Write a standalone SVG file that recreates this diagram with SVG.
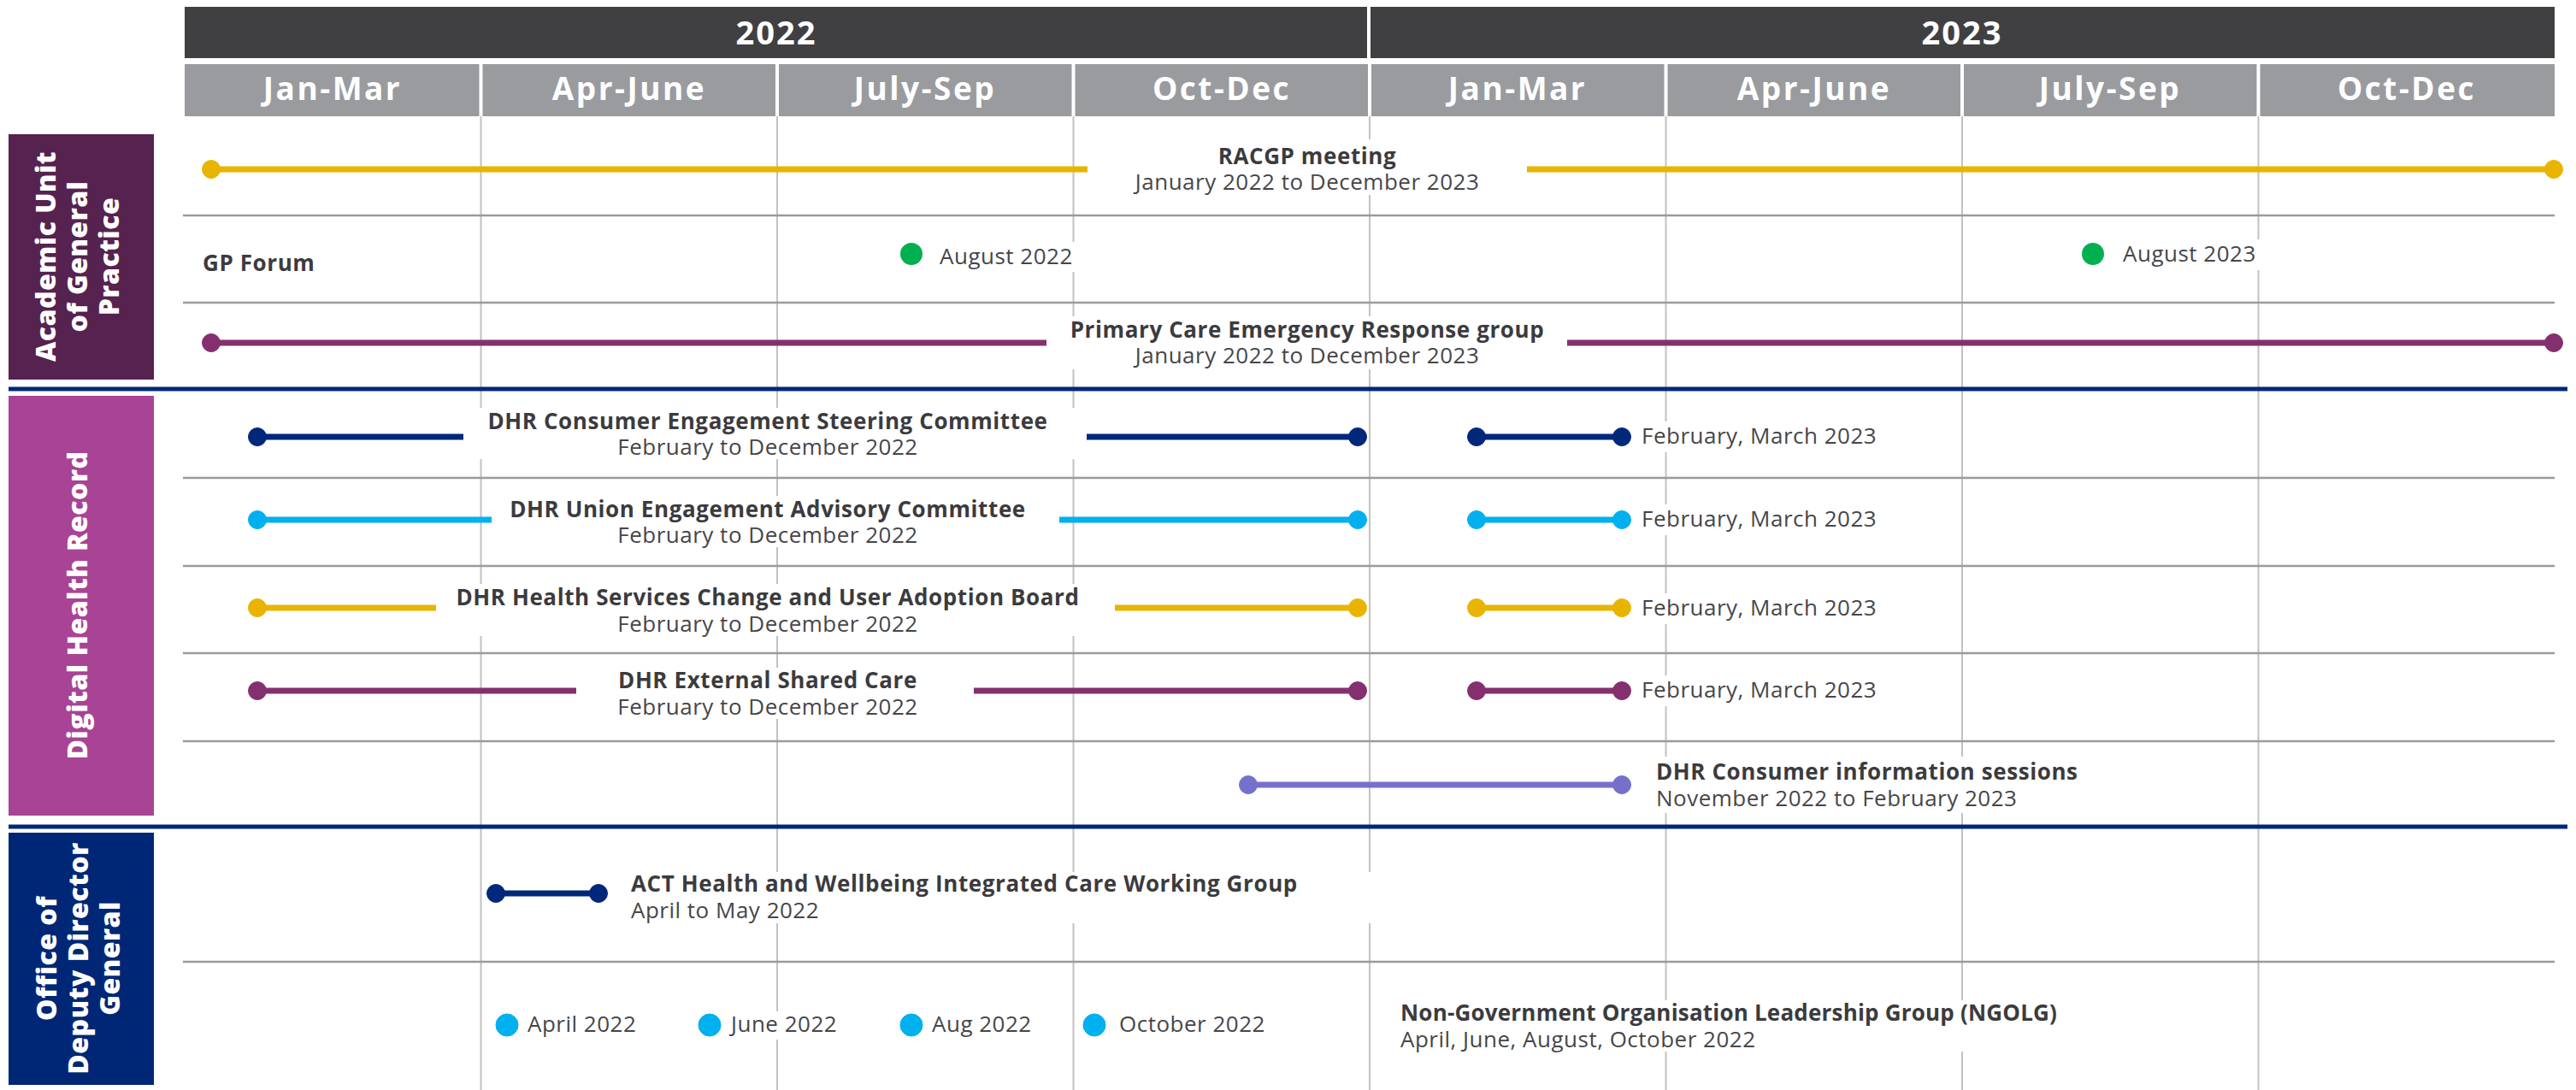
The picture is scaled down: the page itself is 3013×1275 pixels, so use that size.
<svg xmlns="http://www.w3.org/2000/svg" width="3013" height="1275" viewBox="0 0 3013 1275">
<style>
text{font-family:"Open Sans","Liberation Sans",sans-serif}
.hy{fill:#fff;font-weight:700;font-size:38px;letter-spacing:2px;text-anchor:middle}
.hm{fill:#fff;font-weight:700;font-size:37px;letter-spacing:2.5px;text-anchor:middle}
.sec{fill:#fff;font-weight:800;font-size:32px;letter-spacing:0.5px;text-anchor:middle}
.t{fill:#3b3b3e;font-weight:700;font-size:26px;letter-spacing:0.6px}
.s{fill:#46464a;font-weight:400;font-size:26px;letter-spacing:0.5px}
.c{text-anchor:middle}
.grid{stroke:#c2c2c2;stroke-width:2}
.row{stroke:#9b9b9b;stroke-width:2.5}
.sep{stroke:#00287a;stroke-width:5}
.bar{stroke-width:7;fill:none}
.bg{fill:#fff}
.yel{stroke:#e9b400;fill:#e9b400}
.pur{stroke:#84306f;fill:#84306f}
.nav{stroke:#00287a;fill:#00287a}
.lbl{stroke:#00b0ef;fill:#00b0ef}
.lav{stroke:#7670cd;fill:#7670cd}
.grn{fill:#00b050}
</style>
<rect width="3013" height="1275" fill="#fff"/>
<g id="header">
<rect x="216" y="8" width="1383" height="60" fill="#404043"/>
<rect x="1603" y="8" width="1385" height="60" fill="#404043"/>
<text class="hy" x="908" y="52">2022</text>
<text class="hy" x="2295" y="52">2023</text>
<rect x="216" y="75" width="2772" height="61" fill="#999b9f"/>
<g stroke="#fff" stroke-width="4">
<line x1="562.5" y1="75" x2="562.5" y2="136"/><line x1="909" y1="75" x2="909" y2="136"/><line x1="1255.5" y1="75" x2="1255.5" y2="136"/><line x1="1602" y1="75" x2="1602" y2="136"/><line x1="1948.5" y1="75" x2="1948.5" y2="136"/><line x1="2295" y1="75" x2="2295" y2="136"/><line x1="2641.5" y1="75" x2="2641.5" y2="136"/>
</g>
<text class="hm" x="389" y="117">Jan-Mar</text>
<text class="hm" x="736" y="117">Apr-June</text>
<text class="hm" x="1082" y="117">July-Sep</text>
<text class="hm" x="1429" y="117">Oct-Dec</text>
<text class="hm" x="1775" y="117">Jan-Mar</text>
<text class="hm" x="2122" y="117">Apr-June</text>
<text class="hm" x="2468" y="117">July-Sep</text>
<text class="hm" x="2815" y="117">Oct-Dec</text>
</g>
<g id="grid">
<line class="grid" x1="562.5" y1="136" x2="562.5" y2="1275"/><line class="grid" x1="909" y1="136" x2="909" y2="1275"/><line class="grid" x1="1255.5" y1="136" x2="1255.5" y2="1275"/><line class="grid" x1="1602" y1="136" x2="1602" y2="1275"/><line class="grid" x1="1948.5" y1="136" x2="1948.5" y2="1275"/><line class="grid" x1="2295" y1="136" x2="2295" y2="1275"/><line class="grid" x1="2641.5" y1="136" x2="2641.5" y2="1275"/>
<line class="row" x1="214" y1="252" x2="2988" y2="252"/><line class="row" x1="214" y1="354" x2="2988" y2="354"/>
<line class="row" x1="214" y1="559" x2="2988" y2="559"/><line class="row" x1="214" y1="662" x2="2988" y2="662"/><line class="row" x1="214" y1="764" x2="2988" y2="764"/><line class="row" x1="214" y1="867" x2="2988" y2="867"/>
<line class="row" x1="214" y1="1125" x2="2988" y2="1125"/>
<line class="sep" x1="10" y1="455" x2="3003" y2="455"/>
<line class="sep" x1="10" y1="967" x2="3003" y2="967"/>
</g>
<g id="section-augp">
<rect x="10" y="157" width="170" height="287" fill="#56224f"/>
<g transform="translate(0,300) rotate(-90)"><text class="sec" x="0" y="65">Academic Unit</text><text class="sec" x="0" y="102">of General</text><text class="sec" x="0" y="139">Practice</text></g>
</g>
<g id="section-dhr">
<rect x="10" y="463" width="170" height="491" fill="#a84396"/>
<g transform="translate(0,708) rotate(-90)"><text class="sec" x="0" y="102">Digital Health Record</text></g>
</g>
<g id="section-oddg">
<rect x="10" y="974" width="170" height="295" fill="#002776"/>
<g transform="translate(0,1121) rotate(-90)"><text class="sec" x="0" y="66">Office of</text><text class="sec" x="0" y="103">Deputy Director</text><text class="sec" x="0" y="140">General</text></g>
</g>
<g id="connectors">
<g class="yel"><line class="bar" x1="247" y1="198" x2="1272" y2="198"/><line class="bar" x1="1786" y1="198" x2="2987" y2="198"/><circle cx="247" cy="198" r="10.5"/><circle cx="2987" cy="198" r="10.5"/></g>
<g class="pur"><line class="bar" x1="247" y1="401" x2="1224" y2="401"/><line class="bar" x1="1833" y1="401" x2="2987" y2="401"/><circle cx="247" cy="401" r="10.5"/><circle cx="2987" cy="401" r="10.5"/></g>
<g class="nav"><line class="bar" x1="301" y1="511" x2="542" y2="511"/><line class="bar" x1="1271" y1="511" x2="1588" y2="511"/><circle cx="301" cy="511" r="10.5"/><circle cx="1588" cy="511" r="10.5"/><line class="bar" x1="1727" y1="511" x2="1897" y2="511"/><circle cx="1727" cy="511" r="10.5"/><circle cx="1897" cy="511" r="10.5"/></g>
<g class="lbl"><line class="bar" x1="301" y1="608" x2="575" y2="608"/><line class="bar" x1="1239" y1="608" x2="1588" y2="608"/><circle cx="301" cy="608" r="10.5"/><circle cx="1588" cy="608" r="10.5"/><line class="bar" x1="1727" y1="608" x2="1897" y2="608"/><circle cx="1727" cy="608" r="10.5"/><circle cx="1897" cy="608" r="10.5"/></g>
<g class="yel"><line class="bar" x1="301" y1="711" x2="510" y2="711"/><line class="bar" x1="1304" y1="711" x2="1588" y2="711"/><circle cx="301" cy="711" r="10.5"/><circle cx="1588" cy="711" r="10.5"/><line class="bar" x1="1727" y1="711" x2="1897" y2="711"/><circle cx="1727" cy="711" r="10.5"/><circle cx="1897" cy="711" r="10.5"/></g>
<g class="pur"><line class="bar" x1="301" y1="808" x2="674" y2="808"/><line class="bar" x1="1139" y1="808" x2="1588" y2="808"/><circle cx="301" cy="808" r="10.5"/><circle cx="1588" cy="808" r="10.5"/><line class="bar" x1="1727" y1="808" x2="1897" y2="808"/><circle cx="1727" cy="808" r="10.5"/><circle cx="1897" cy="808" r="10.5"/></g>
<g class="lav"><line class="bar" x1="1460" y1="918" x2="1897" y2="918"/><circle cx="1460" cy="918" r="10.5"/><circle cx="1897" cy="918" r="10.5"/></g>
<g class="nav"><line class="bar" x1="580" y1="1045" x2="700" y2="1045"/><circle cx="580" cy="1045" r="10.5"/><circle cx="700" cy="1045" r="10.5"/></g>
</g>
<g id="racgp">
<rect class="bg" x="1272" y="163" width="514" height="65"/>
<text class="t c" x="1529" y="192">RACGP meeting</text>
<text class="s c" x="1529" y="222">January 2022 to December 2023</text>
</g>
<g id="gp-forum">
<text class="t" x="237" y="317">GP Forum</text>
<rect class="bg" x="1095" y="283" width="167" height="35"/>
<circle class="grn" cx="1066" cy="297" r="13"/>
<text class="s" x="1099" y="309">August 2022</text>
<rect class="bg" x="2478" y="280" width="168" height="36"/>
<circle class="grn" cx="2448" cy="297" r="13"/>
<text class="s" x="2483" y="306">August 2023</text>
</g>
<g id="pcerg">
<rect class="bg" x="1224" y="370" width="609" height="62"/>
<text class="t c" x="1529" y="395">Primary Care Emergency Response group</text>
<text class="s c" x="1529" y="425">January 2022 to December 2023</text>
</g>
<g id="dhr-cesc">
<rect class="bg" x="542" y="477" width="729" height="60"/>
<text class="t c" x="898" y="502">DHR Consumer Engagement Steering Committee</text>
<text class="s c" x="898" y="532">February to December 2022</text>
<rect class="bg" x="1912" y="493" width="288" height="36"/>
<text class="s" x="1920" y="519">February, March 2023</text>
</g>
<g id="dhr-ueac">
<rect class="bg" x="575" y="580" width="664" height="60"/>
<text class="t c" x="898" y="605">DHR Union Engagement Advisory Committee</text>
<text class="s c" x="898" y="635">February to December 2022</text>
<rect class="bg" x="1912" y="590" width="288" height="36"/>
<text class="s" x="1920" y="616">February, March 2023</text>
</g>
<g id="dhr-hscuab">
<rect class="bg" x="510" y="683" width="794" height="61"/>
<text class="t c" x="898" y="708">DHR Health Services Change and User Adoption Board</text>
<text class="s c" x="898" y="739">February to December 2022</text>
<rect class="bg" x="1912" y="694" width="288" height="36"/>
<text class="s" x="1920" y="720">February, March 2023</text>
</g>
<g id="dhr-esc">
<rect class="bg" x="674" y="781" width="465" height="60"/>
<text class="t c" x="898" y="805">DHR External Shared Care</text>
<text class="s c" x="898" y="836">February to December 2022</text>
<rect class="bg" x="1912" y="790" width="288" height="36"/>
<text class="s" x="1920" y="816">February, March 2023</text>
</g>
<g id="dhr-cis">
<rect class="bg" x="1930" y="885" width="500" height="66"/>
<text class="t" x="1937" y="912">DHR Consumer information sessions</text>
<text class="s" x="1937" y="943">November 2022 to February 2023</text>
</g>
<g id="act-hwicwg">
<rect class="bg" x="730" y="1020" width="880" height="60"/>
<text class="t" x="738" y="1043">ACT Health and Wellbeing Integrated Care Working Group</text>
<text class="s" x="738" y="1074">April to May 2022</text>
</g>
<g id="ngolg">
<circle class="lbl" cx="593" cy="1199" r="13"/>
<text class="s" x="617" y="1207">April 2022</text>
<rect class="bg" x="850" y="1183" width="140" height="33"/>
<circle class="lbl" cx="830" cy="1199" r="13"/>
<text class="s" x="855" y="1207">June 2022</text>
<circle class="lbl" cx="1066" cy="1199" r="13"/>
<text class="s" x="1090" y="1207">Aug 2022</text>
<circle class="lbl" cx="1280" cy="1199" r="13"/>
<text class="s" x="1309" y="1207">October 2022</text>
<rect class="bg" x="1630" y="1170" width="790" height="60"/>
<text class="t" x="1638" y="1194" style="letter-spacing:0.2px">Non-Government Organisation Leadership Group (NGOLG)</text>
<text class="s" x="1638" y="1225">April, June, August, October 2022</text>
</g>
</svg>
